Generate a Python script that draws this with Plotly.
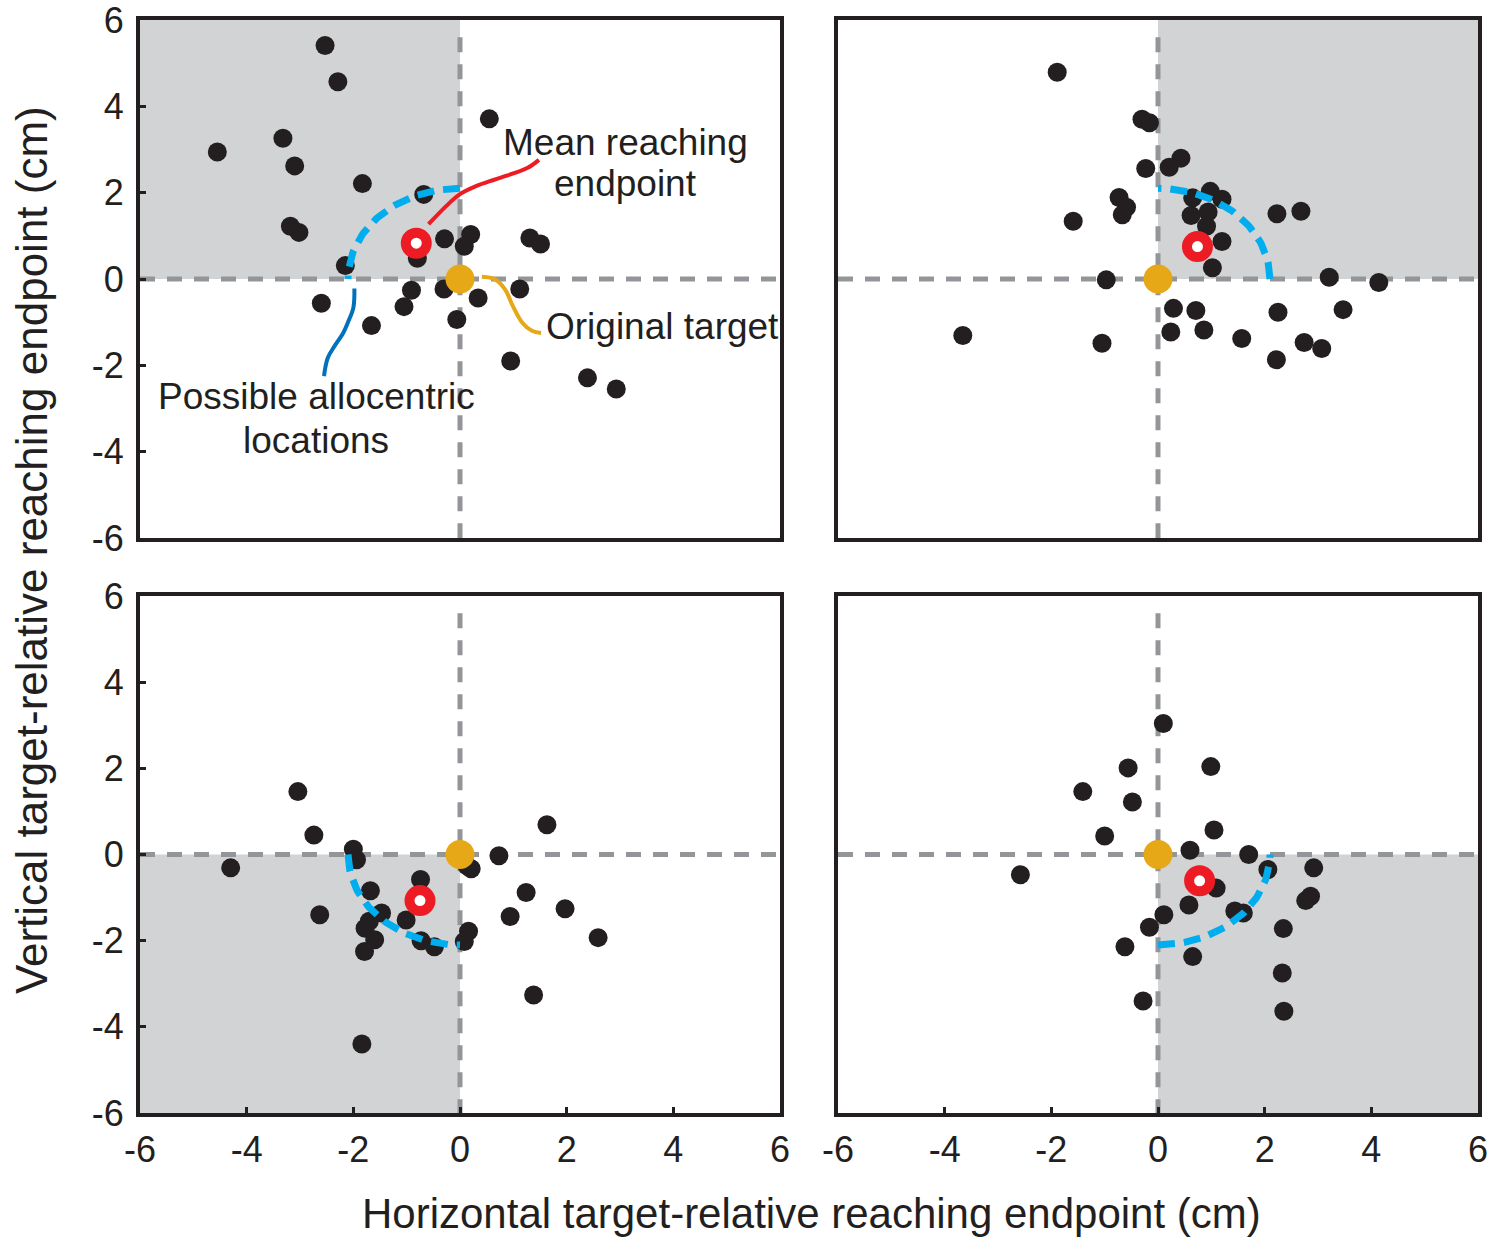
import numpy as np
import plotly.graph_objects as go

# ---------------- data ----------------
# Panel A (top-left)
a_x = [-2.53, -2.29, 0.55, -3.32, -4.55, -3.10, -1.83, -0.68, -3.18, -3.02, -0.29, 0.20, 0.08,
       1.31, 1.51, -0.80, -2.15, -0.91, -0.30, -1.05, -2.60, -1.66, -0.06, 0.34, 1.12, 0.95, 2.39, 2.93]
a_y = [5.41, 4.57, 3.71, 3.26, 2.94, 2.62, 2.21, 1.96, 1.22, 1.08, 0.93, 1.03, 0.76,
       0.95, 0.81, 0.48, 0.31, -0.26, -0.23, -0.64, -0.56, -1.08, -0.94, -0.44, -0.23, -1.90, -2.29, -2.55]
# Panel B (top-right)
b_x = [-1.89, -0.30, -0.16, 0.43, 0.21, -0.23, -0.73, -0.59, -0.67, -1.59, 0.98, 1.20, 0.65, 0.94,
       0.62, 0.91, 1.20, 1.02, 2.23, 2.68, -0.97, 3.21, 4.14, 0.29, 0.71, 2.25, 3.47, 0.24, 0.86,
       1.57, 2.74, 3.07, 2.22, -3.66, -1.05]
b_y = [4.79, 3.70, 3.62, 2.80, 2.59, 2.56, 1.89, 1.66, 1.49, 1.34, 2.03, 1.85, 1.88, 1.55,
       1.47, 1.22, 0.87, 0.26, 1.51, 1.57, -0.02, 0.04, -0.08, -0.68, -0.73, -0.77, -0.71, -1.23, -1.18,
       -1.38, -1.47, -1.61, -1.87, -1.31, -1.49]
# Panel C (bottom-left)
c_x = [-3.04, -2.74, 1.63, -2.00, -1.94, -4.30, 0.73, 0.13, 0.21, -0.74, -1.68, 1.24, 1.97, 0.94,
       -2.63, -1.47, -1.70, -1.78, -1.60, -1.79, -1.01, -0.73, -0.48, 0.16, 0.08, 2.59, 1.38, -1.84]
c_y = [1.46, 0.45, 0.69, 0.12, -0.12, -0.31, -0.03, -0.26, -0.33, -0.58, -0.84, -0.88, -1.26, -1.44,
       -1.40, -1.36, -1.55, -1.71, -1.98, -2.25, -1.52, -2.00, -2.14, -1.78, -2.02, -1.93, -3.26, -4.40]
# Panel D (bottom-right)
d_x = [0.10, -0.56, 0.99, -1.41, -0.48, -1.00, 1.05, 0.60, 1.70, -2.58, 2.06, 2.92, 1.09, 2.86,
       2.77, 0.58, 1.44, 1.60, 0.11, -0.16, 2.35, -0.62, 0.65, 2.33, -0.28, 2.36]
d_y = [3.04, 2.01, 2.04, 1.46, 1.22, 0.43, 0.57, 0.10, 0.00, -0.47, -0.35, -0.31, -0.78, -0.97,
       -1.07, -1.17, -1.31, -1.36, -1.40, -1.69, -1.72, -2.14, -2.37, -2.75, -3.40, -3.64]

# Mean reaching endpoints per panel
mean_x = [-0.82, 0.74, -0.75, 0.78]
mean_y = [0.83, 0.75, -1.07, -0.61]
# Shaded quadrant sign (x sign, y sign) per panel
quad_sx = [-1, 1, -1, 1]
quad_sy = [1, 1, -1, -1]
arc_radius = 2.1

tick_vals = [-6, -4, -2, 0, 2, 4, 6]
tick_text = ["-6", "-4", "-2", "0", "2", "4", "6"]

# connector curves (panel A, data coords)
red_cx = [-0.59, -0.25, -0.02, 0.30, 0.69, 1.26, 1.48]
red_cy = [1.27, 1.70, 1.95, 2.15, 2.32, 2.57, 2.76]
org_cx = [0.41, 0.66, 0.85, 0.98, 1.16, 1.35, 1.52]
org_cy = [0.05, -0.01, -0.25, -0.60, -1.00, -1.20, -1.25]
blu_cx = [-1.98, -2.00, -2.10, -2.19, -2.35, -2.48, -2.55]
blu_cy = [-0.22, -0.67, -1.00, -1.25, -1.55, -1.83, -2.25]

# ---------------- styles ----------------
FONT = "Liberation Sans, Arial, Helvetica, sans-serif"
BLACK = "#231f20"
GREY_FILL = "#d1d3d4"
GREY_DASH = "#939598"
RED = "#ed1c24"
ORANGE = "#e6a817"
LBLUE = "#00aeef"
DBLUE = "#0072bc"

W, H = 1509, 1237
xdom = [[140 / W, 780 / W], [838 / W, 1478 / W]]
ydom = [[1 - 538 / H, 1 - 20 / H], [1 - 1113 / H, 1 - 596 / H]]

fig = go.Figure()

panels = [(a_x, a_y), (b_x, b_y), (c_x, c_y), (d_x, d_y)]
layout_axes = {}
shapes = []
for i, (px, py) in enumerate(panels):
    row, col = divmod(i, 2)
    n = i + 1
    xa = "x" if n == 1 else f"x{n}"
    ya = "y" if n == 1 else f"y{n}"
    xkey = "xaxis" if n == 1 else f"xaxis{n}"
    ykey = "yaxis" if n == 1 else f"yaxis{n}"
    bottom = row == 1
    left = col == 0
    layout_axes[xkey] = dict(
        domain=xdom[col], anchor=ya, range=[-6, 6], showgrid=False, zeroline=False,
        showline=True, mirror=True, linecolor=BLACK, linewidth=4, automargin=False,
        tickvals=tick_vals, ticktext=tick_text,
        ticks="inside" if bottom else "", ticklen=6, tickwidth=3, tickcolor=BLACK,
        showticklabels=bottom, ticklabelstandoff=2, ticklabeloverflow="allow",
        tickfont=dict(family=FONT, size=36, color=BLACK),
    )
    layout_axes[ykey] = dict(
        domain=ydom[row], anchor=xa, range=[-6, 6], showgrid=False, zeroline=False,
        showline=True, mirror=True, linecolor=BLACK, linewidth=4, automargin=False,
        tickvals=tick_vals, ticktext=tick_text,
        ticks="inside" if left else "", ticklen=6, tickwidth=3, tickcolor=BLACK,
        showticklabels=left, ticklabelstandoff=5, ticklabeloverflow="allow",
        tickfont=dict(family=FONT, size=36, color=BLACK),
    )
    # shaded quadrant
    sx, sy = quad_sx[i], quad_sy[i]
    shapes.append(dict(type="rect", xref=xa, yref=ya, x0=0, x1=6 * sx, y0=0, y1=6 * sy,
                       fillcolor=GREY_FILL, line=dict(width=0), layer="below"))
    # dashed axes through target
    shapes.append(dict(type="line", xref=xa, yref=ya, x0=-6, x1=6, y0=0, y1=0,
                       line=dict(color=GREY_DASH, width=5, dash="15px,12px"), layer="below"))
    shapes.append(dict(type="line", xref=xa, yref=ya, x0=0, x1=0, y0=5.6, y1=-6,
                       line=dict(color=GREY_DASH, width=5, dash="15px,12px"), layer="below"))

    # data points
    fig.add_trace(go.Scatter(x=px, y=py, mode="markers", xaxis=xa, yaxis=ya,
                             marker=dict(size=19, color=BLACK, line=dict(width=0)),
                             showlegend=False, hoverinfo="skip"))
    # allocentric arc (quarter circle of possible locations)
    th0 = np.arctan2(sy, sx) - np.pi / 4
    th = np.linspace(th0, th0 + np.pi / 2, 60)
    fig.add_trace(go.Scatter(x=arc_radius * np.cos(th), y=arc_radius * np.sin(th), mode="lines",
                             xaxis=xa, yaxis=ya,
                             line=dict(color=LBLUE, width=7, dash="17px,9px"),
                             showlegend=False, hoverinfo="skip"))
    # original target
    fig.add_trace(go.Scatter(x=[0], y=[0], mode="markers", xaxis=xa, yaxis=ya,
                             marker=dict(size=29, color=ORANGE, line=dict(width=0)),
                             showlegend=False, hoverinfo="skip"))
    # mean endpoint
    fig.add_trace(go.Scatter(x=[mean_x[i]], y=[mean_y[i]], mode="markers", xaxis=xa, yaxis=ya,
                             marker=dict(size=21, color="white", line=dict(color=RED, width=10)),
                             showlegend=False, hoverinfo="skip"))

# connector curves in panel A
for cx, cy, colr in [(red_cx, red_cy, RED), (org_cx, org_cy, ORANGE), (blu_cx, blu_cy, DBLUE)]:
    fig.add_trace(go.Scatter(x=cx, y=cy, mode="lines", xaxis="x", yaxis="y",
                             line=dict(color=colr, width=4, shape="spline", smoothing=1.0),
                             showlegend=False, hoverinfo="skip"))

ann_font = dict(family=FONT, size=37, color=BLACK)


def label(text, x, y, xanchor="center"):
    return dict(text=text, xref="x", yref="y", x=x, y=y, showarrow=False, font=ann_font,
                xanchor=xanchor, yanchor="middle")


annotations = [
    label("Mean reaching", 3.11, 3.17),
    label("endpoint", 3.11, 2.22),
    label("Original target", 1.58, -1.1, "left"),
    label("Possible allocentric", -2.70, -2.73),
    label("locations", -2.70, -3.73),
    dict(text="Horizontal target-relative reaching endpoint (cm)", xref="paper", yref="paper",
         x=811 / W, y=1 - 1213 / H, showarrow=False,
         font=dict(family=FONT, size=42, color=BLACK), xanchor="center", yanchor="middle"),
    dict(text="Vertical target-relative reaching endpoint (cm)", xref="paper", yref="paper",
         x=31 / W, y=1 - 550 / H, showarrow=False, textangle=-90,
         font=dict(family=FONT, size=44, color=BLACK), xanchor="center", yanchor="middle"),
]

fig.update_layout(
    width=W, height=H, margin=dict(l=0, r=0, t=0, b=0, autoexpand=False),
    paper_bgcolor="white", plot_bgcolor="white",
    shapes=shapes, annotations=annotations, showlegend=False,
    **layout_axes,
)

fig.write_html("out.html", config={"displayModeBar": False})
